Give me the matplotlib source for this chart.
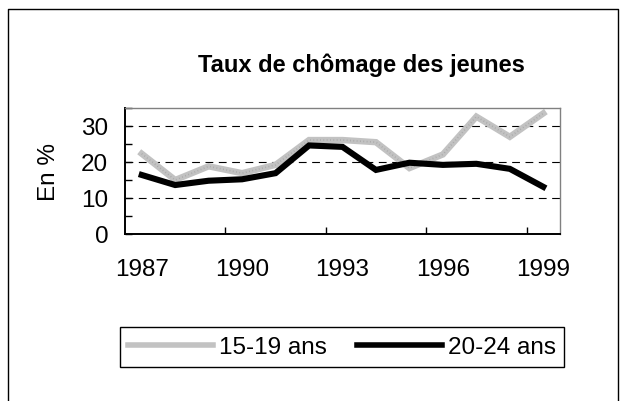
import numpy as np
import matplotlib.pyplot as plt
from matplotlib.lines import Line2D

plt.rcParams['font.family'] = ['Liberation Sans', 'DejaVu Sans']

years = list(range(1987, 2000))
tick_years = [1987, 1990, 1993, 1996, 1999]
jeunes_15_19 = [22.3, 15.0, 18.8, 16.9, 19.2, 26.1, 26.1, 25.5, 18.3, 22.1, 32.6, 27.0, 33.5]
jeunes_20_24 = [16.4, 13.6, 14.8, 15.2, 16.9, 24.6, 24.2, 17.8, 19.8, 19.2, 19.5, 18.1, 13.1]

fig = plt.figure(figsize=(6.29, 4.02), dpi=100)
ax = fig.add_axes([125 / 629, 1 - 235 / 402, 435 / 629, 126 / 402])

x = np.arange(len(years))
ax.plot(x, jeunes_15_19, color='#c2c2c2', lw=4.6, solid_joinstyle='miter', label='15-19 ans')
ax.plot(x, jeunes_15_19, color='#a8a8a8', lw=1.2, ls=(0, (0.5, 1.5)))
ax.plot(x, jeunes_20_24, color='black', lw=4.4, solid_joinstyle='miter', label='20-24 ans')

ax.set_xlim(-0.5, len(years) - 0.5)
ax.set_ylim(0, 35)
for g in [10, 20, 30]:
    ax.axhline(g, color='black', lw=0.8, dashes=(7, 5), zorder=0)

ax.set_yticks([0, 10, 20, 30])
ax.set_yticks([5, 15, 25, 35], minor=True)
ax.tick_params(axis='y', which='both', direction='in', length=5, width=1, labelsize=17.5, pad=12)

ax.set_xticks([years.index(y) for y in tick_years])
ax.set_xticklabels([str(y) for y in tick_years])
ax.set_xticks([2.5, 5.5, 8.5, 11.5], minor=True)
ax.tick_params(axis='x', which='major', length=0, labelsize=17.5, pad=17)
ax.tick_params(axis='x', which='minor', direction='in', length=5, width=1)

for s in ['left', 'bottom']:
    ax.spines[s].set_linewidth(1.4)
for s in ['top', 'right']:
    ax.spines[s].set_color('#808080')
    ax.spines[s].set_linewidth(1.0)

ax.set_ylabel('En %', fontsize=17.5)
ax.yaxis.set_label_coords(-0.15, 0.5)

fig.text(361 / 629, 1 - 65 / 402, 'Taux de chômage des jeunes', ha='center', va='center',
         fontsize=17, fontweight='bold')

leg = fig.legend(loc='center', bbox_to_anchor=(342 / 629, 1 - 348 / 402), ncol=2,
                 fontsize=17.5, handlelength=3.5, handletextpad=0.25, columnspacing=1.2,
                 borderpad=0.35, borderaxespad=0, fancybox=False, framealpha=1, edgecolor='black')
leg.get_frame().set_linewidth(1.0)
for h in leg.get_lines():
    h.set_linewidth(4.0)

# outer frame
fig.add_artist(Line2D([8 / 629, 8 / 629, 618 / 629, 618 / 629],
                      [0, 1 - 10 / 402, 1 - 10 / 402, 0], color='black', lw=1.0,
                      transform=fig.transFigure))

fig.savefig('out.png', dpi=100)
